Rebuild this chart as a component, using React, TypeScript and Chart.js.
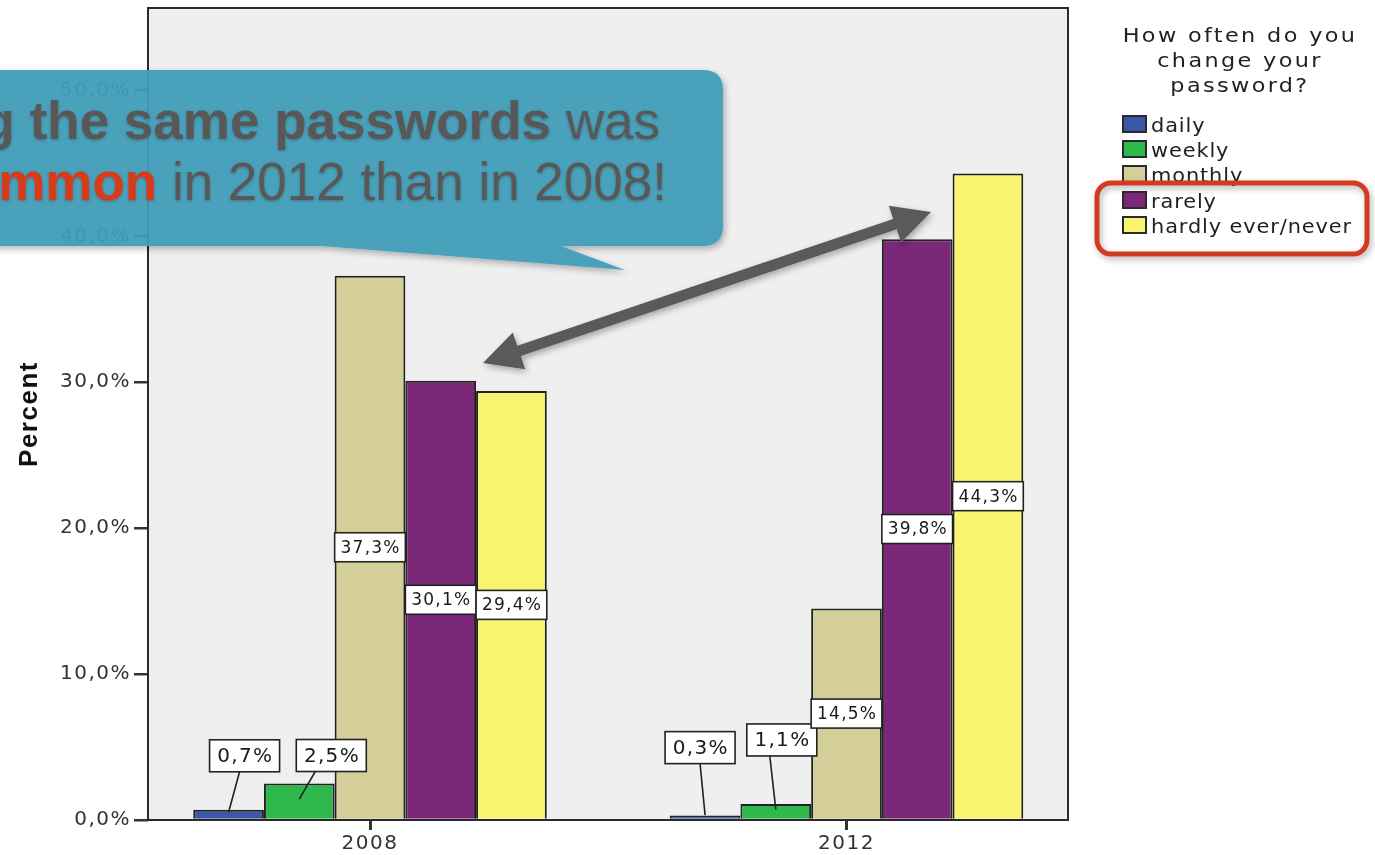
import React, { useEffect, useRef } from 'react';
import { Chart, registerables } from 'chart.js';

Chart.register(...registerables);

// ---- data ----
const YEARS = ['2008', '2012'];
const YEAR_VALUES = [2008, 2012];
const SERIES_NAMES = ['daily', 'weekly', 'monthly', 'rarely', 'hardly ever/never'];
const SERIES_COLORS = ['#3a57a8', '#2fb84b', '#d4cf98', '#7b2878', '#faf570'];
const DAILY = [0.7, 0.3];
const WEEKLY = [2.5, 1.1];
const MONTHLY = [37.3, 14.5];
const RARELY = [30.1, 39.8];
const HARDLY = [29.4, 44.3];
const SERIES = [DAILY, WEEKLY, MONTHLY, RARELY, HARDLY];
const Y_TICKS = [0, 10, 20, 30, 40, 50];
const Y_MAX = 55.65;
const X_MIN = 2006.1364;
const X_MAX = 2013.8594;
const LEGEND_TITLE = ['How often do you', 'change your', 'password?'];
const Y_TITLE = 'Percent';

// placement of the callout labels of small bars (relative to bar top-center)
const SMALL_LABELS: Record<string, { dx: number; dy: number; lx: number }> = {
  '0-0': { dx: 16, dy: -54, lx: -5 },
  '1-0': { dx: 32, dy: -28, lx: -16 },
  '0-1': { dx: -5, dy: -68, lx: 0 },
  '1-1': { dx: 6, dy: -64, lx: -12 },
};

const fmt = (v: number) => v.toFixed(1).replace('.', ',') + '%';

const spacingPlugin = {
  id: 'spacing',
  beforeLayout(chart: any) {
    chart.ctx.letterSpacing = '1.5px';
  },
  beforeDraw(chart: any) {
    chart.ctx.letterSpacing = '1.5px';
  },
};

const framePlugin = {
  id: 'frame',
  beforeDraw(chart: any) {
    const { ctx, chartArea: a } = chart;
    ctx.save();
    ctx.fillStyle = '#efefef';
    ctx.fillRect(a.left, a.top, a.right - a.left, a.bottom - a.top);
    ctx.restore();
  },
  afterDatasetsDraw(chart: any) {
    const { ctx, chartArea: a } = chart;
    ctx.save();
    ctx.strokeStyle = '#2a2a2a';
    ctx.lineWidth = 2;
    ctx.strokeRect(a.left, a.top, a.right - a.left, a.bottom - a.top);
    ctx.restore();
  },
};

const labelPlugin = {
  id: 'barLabels',
  afterDatasetsDraw(chart: any) {
    const ctx = chart.ctx;
    chart.data.datasets.forEach((_ds: any, di: number) => {
      const meta = chart.getDatasetMeta(di);
      meta.data.forEach((el: any, j: number) => {
        const text = fmt(SERIES[di][j]);
        const off = SMALL_LABELS[`${di}-${j}`];
        ctx.save();
        ctx.textAlign = 'center';
        ctx.textBaseline = 'middle';
        let cx: number, cy: number, w: number, h: number, sp: number;
        if (off) {
          ctx.font = '20px "DejaVu Sans"';
          sp = 1.3;
          ctx.letterSpacing = sp + 'px';
          const tw = ctx.measureText(text).width;
          w = tw + 14;
          h = 32;
          cx = el.x + off.dx;
          cy = el.y + off.dy;
          ctx.beginPath();
          ctx.moveTo(cx + off.lx, cy + h / 2);
          ctx.lineTo(el.x, (el.y + el.base) / 2 - 2);
          ctx.strokeStyle = '#222';
          ctx.lineWidth = 1.6;
          ctx.stroke();
        } else {
          ctx.font = '17px "DejaVu Sans"';
          sp = 1.2;
          ctx.letterSpacing = sp + 'px';
          w = el.width;
          h = 29;
          cx = el.x;
          cy = (el.y + el.base) / 2;
        }
        ctx.fillStyle = '#ffffff';
        ctx.fillRect(cx - w / 2, cy - h / 2, w, h);
        ctx.strokeStyle = '#222';
        ctx.lineWidth = 1.6;
        ctx.strokeRect(cx - w / 2, cy - h / 2, w, h);
        ctx.fillStyle = '#1a1a1a';
        ctx.fillText(text, cx + sp / 2, cy + 1);
        ctx.restore();
      });
    });
  },
};

function arrowPoints(x1: number, y1: number, x2: number, y2: number) {
  const dx = x2 - x1, dy = y2 - y1;
  const len = Math.hypot(dx, dy);
  const ux = dx / len, uy = dy / len;
  const nx = -uy, ny = ux;
  const L = 38, hw = 19.5, sw = 5.5;
  const p = (t: number, s: number) => `${(x1 + ux * t + nx * s).toFixed(1)},${(y1 + uy * t + ny * s).toFixed(1)}`;
  return [
    p(0, 0), p(L, hw), p(L, sw), p(len - L, sw), p(len - L, hw), p(len, 0),
    p(len - L, -hw), p(len - L, -sw), p(L, -sw), p(L, -hw),
  ].join(' ');
}

export default function App() {
  const canvasRef = useRef<HTMLCanvasElement | null>(null);

  useEffect(() => {
    const canvas = canvasRef.current;
    if (!canvas) return;
    const chart = new Chart(canvas, {
      type: 'bar',
      data: {
        datasets: SERIES.map((vals, i) => ({
          label: SERIES_NAMES[i],
          data: YEAR_VALUES.map((x, j) => ({ x, y: vals[j] })),
          backgroundColor: SERIES_COLORS[i],
          borderColor: '#222',
          borderWidth: 2,
          categoryPercentage: 0.742,
          barPercentage: 1,
        })),
      },
      options: {
        responsive: false,
        animation: false,
        devicePixelRatio: 1,
        layout: { padding: { left: 0, top: 8, right: 307, bottom: 0 } },
        plugins: { legend: { display: false }, tooltip: { enabled: false } },
        scales: {
          x: {
            type: 'linear',
            min: X_MIN,
            max: X_MAX,
            offset: false,
            grid: { drawOnChartArea: false, offset: false, tickLength: 10, color: '#333', lineWidth: 3 },
            border: { display: false },
            afterBuildTicks: (s: any) => {
              s.ticks = YEAR_VALUES.map((v) => ({ value: v }));
            },
            afterFit: (s: any) => {
              s.height = 35;
              s.paddingLeft = 0;
              s.paddingRight = 0;
            },
            ticks: {
              padding: 2,
              color: '#333',
              maxRotation: 0,
              autoSkip: false,
              font: { family: '"DejaVu Sans"', size: 20 },
              callback: (v: any) => {
                const k = YEAR_VALUES.indexOf(Number(v));
                return k >= 0 ? YEARS[k] : '';
              },
            },
          },
          y: {
            type: 'linear',
            min: 0,
            max: Y_MAX,
            grid: { drawOnChartArea: false, tickLength: 14, color: '#333', lineWidth: 2.5 },
            border: { display: false },
            afterBuildTicks: (s: any) => {
              s.ticks = Y_TICKS.map((v) => ({ value: v }));
            },
            afterFit: (s: any) => {
              s.width = 148;
              s.paddingTop = 0;
              s.paddingBottom = 0;
            },
            ticks: {
              padding: 3,
              color: '#333',
              font: { family: '"DejaVu Sans"', size: 20 },
              callback: (v: any) => fmt(Number(v)),
            },
            title: {
              display: true,
              text: Y_TITLE,
              color: '#111',
              font: { family: '"Liberation Sans", Arial, sans-serif', size: 26, weight: 'bold' },
              padding: { top: 14, bottom: 0 },
            },
          },
        },
      },
      plugins: [spacingPlugin, framePlugin, labelPlugin],
    } as any);
    return () => chart.destroy();
  }, []);

  return (
    <div style={{ position: 'absolute', left: 0, top: 0, width: 1375, height: 855, overflow: 'hidden', background: '#fff' }}>
      <canvas ref={canvasRef} width={1375} height={855} style={{ position: 'absolute', left: 0, top: 0, width: 1375, height: 855 }} />

      {/* legend */}
      <div
        style={{
          position: 'absolute', left: 1100, top: 23, width: 280,
          textAlign: 'center', fontFamily: '"DejaVu Sans", sans-serif', fontSize: 19,
          lineHeight: '25px', letterSpacing: '2px', color: '#222',
          transform: 'scaleX(1.177)', transformOrigin: '140px 0',
        }}
      >
        {LEGEND_TITLE.map((t) => (
          <div key={t}>{t}</div>
        ))}
      </div>
      {SERIES_NAMES.map((name, i) => (
        <div
          key={name}
          style={{
            position: 'absolute', left: 1122, top: 113 + i * 25.2, height: 25, width: 250,
            fontFamily: '"DejaVu Sans", sans-serif', fontSize: 19, lineHeight: '25px', color: '#222',
          }}
        >
          <span
            style={{
              position: 'absolute', left: 0, top: 2, width: 21, height: 14,
              background: SERIES_COLORS[i], border: '2px solid #2a2a2a',
            }}
          />
          <span
            style={{
              position: 'absolute', left: 29, top: 0, whiteSpace: 'nowrap', letterSpacing: '0.8px',
              transform: 'scaleX(1.1)', transformOrigin: '0 0',
            }}
          >
            {name}
          </span>
        </div>
      ))}

      {/* annotations */}
      <svg width={1375} height={855} style={{ position: 'absolute', left: 0, top: 0, pointerEvents: 'none' }}>
        <defs>
          <filter id="sh" x="-20%" y="-20%" width="140%" height="160%">
            <feDropShadow dx="2" dy="3" stdDeviation="3" floodColor="#000" floodOpacity="0.3" />
          </filter>
          <filter id="tsh" x="-5%" y="-20%" width="110%" height="140%">
            <feDropShadow dx="0" dy="1" stdDeviation="1.5" floodColor="#000" floodOpacity="0.25" />
          </filter>
        </defs>
        <path
          d="M -40 70 H 703 Q 723 70 723 90 V 226 Q 723 246 703 246 H 561 L 625 270 L 321 246 H -40 Z"
          fill="rgba(63,157,185,0.93)"
          filter="url(#sh)"
        />
        <g fontFamily='"Liberation Sans", Arial, sans-serif' fontSize={53} fill="#595959" filter="url(#tsh)">
          <text x={660} y={139} textAnchor="end">
            <tspan fontWeight="bold">g the same passwords</tspan>
            <tspan> was</tspan>
          </text>
          <text x={667} y={200} textAnchor="end">
            <tspan fontWeight="bold" fill="#d63a1f">mmon</tspan>
            <tspan> in 2012 than in 2008!</tspan>
          </text>
        </g>
        <polygon points={arrowPoints(483, 363, 931, 212)} fill="#5a5a5a" filter="url(#sh)" />
        <rect x={1097} y={183} width={270} height={71} rx={14} ry={14} fill="none" stroke="#d13a20" strokeWidth={5} filter="url(#sh)" />
      </svg>
    </div>
  );
}
